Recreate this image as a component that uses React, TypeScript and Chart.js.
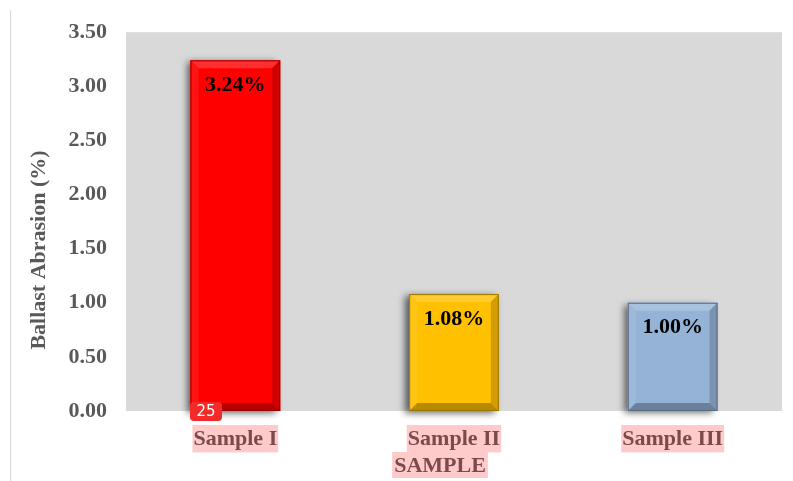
import React, { useEffect, useRef } from "react";
import { Chart, registerables } from "chart.js";

Chart.register(...registerables);

const categories = ["Sample I", "Sample II", "Sample III"];
const values = [3.24, 1.08, 1.0];
const barColors = ["#ff0000", "#ffc000", "#95b3d7"];
const yTicks = [0, 0.5, 1, 1.5, 2, 2.5, 3, 3.5];
const yTitle = "Ballast Abrasion (%)";
const xTitle = "SAMPLE";
const badgeText = "25";

const SERIF = '"Liberation Serif", "Times New Roman", serif';

function shade(hex: string, amt: number) {
  const n = parseInt(hex.slice(1), 16);
  let r = (n >> 16) & 255, g = (n >> 8) & 255, b = n & 255;
  const f = (c: number) => Math.max(0, Math.min(255, Math.round(amt >= 0 ? c + (255 - c) * amt : c * (1 + amt))));
  return `rgb(${f(r)},${f(g)},${f(b)})`;
}

const decorPlugin = {
  id: "decor",
  beforeDraw(chart: any) {
    const { ctx, chartArea } = chart;
    ctx.save();
    ctx.fillStyle = "#d9d9d9";
    ctx.fillRect(chartArea.left, chartArea.top, chartArea.right - chartArea.left, chartArea.bottom - chartArea.top);
    ctx.strokeStyle = "#d9d9d9";
    ctx.lineWidth = 1;
    ctx.beginPath();
    ctx.moveTo(10.5, 10);
    ctx.lineTo(10.5, 481);
    ctx.stroke();
    ctx.restore();
  },
  beforeDatasetsDraw(chart: any) {
    const { ctx } = chart;
    const meta = chart.getDatasetMeta(0);
    ctx.save();
    meta.data.forEach((bar: any, i: number) => {
      const l = bar.x - bar.width / 2;
      ctx.shadowColor = "rgba(0,0,0,0.6)";
      ctx.shadowBlur = 7;
      ctx.shadowOffsetX = -4;
      ctx.shadowOffsetY = 2;
      ctx.fillStyle = barColors[i];
      ctx.fillRect(l, bar.y, bar.width, bar.base - bar.y);
    });
    ctx.restore();
  },
  afterDatasetsDraw(chart: any) {
    const { ctx } = chart;
    const meta = chart.getDatasetMeta(0);
    meta.data.forEach((bar: any, i: number) => {
      const l = bar.x - bar.width / 2;
      const r = bar.x + bar.width / 2;
      const t = bar.y;
      const b = bar.base;
      const d = 8;
      const c = barColors[i];
      ctx.save();
      ctx.fillStyle = shade(c, 0.18);
      ctx.beginPath();
      ctx.moveTo(l, t); ctx.lineTo(r, t); ctx.lineTo(r - d, t + d); ctx.lineTo(l + d, t + d); ctx.closePath(); ctx.fill();
      ctx.fillStyle = shade(c, 0.08);
      ctx.beginPath();
      ctx.moveTo(l, t); ctx.lineTo(l + d, t + d); ctx.lineTo(l + d, b - d); ctx.lineTo(l, b); ctx.closePath(); ctx.fill();
      ctx.fillStyle = shade(c, -0.18);
      ctx.beginPath();
      ctx.moveTo(r, t); ctx.lineTo(r, b); ctx.lineTo(r - d, b - d); ctx.lineTo(r - d, t + d); ctx.closePath(); ctx.fill();
      ctx.fillStyle = shade(c, -0.28);
      ctx.beginPath();
      ctx.moveTo(l, b); ctx.lineTo(r, b); ctx.lineTo(r - d, b - d); ctx.lineTo(l + d, b - d); ctx.closePath(); ctx.fill();
      ctx.strokeStyle = shade(c, -0.4);
      ctx.lineWidth = 1;
      ctx.strokeRect(l + 0.5, t + 0.5, r - l - 1, b - t - 1);
      ctx.fillStyle = "#000000";
      ctx.font = `bold 22px ${SERIF}`;
      ctx.textAlign = "center";
      ctx.textBaseline = "middle";
      ctx.fillText(values[i].toFixed(2) + "%", bar.x, t + 25);
      ctx.restore();
    });
  },
  afterDraw(chart: any) {
    const { ctx, chartArea } = chart;
    ctx.save();
    ctx.font = `bold 22px ${SERIF}`;
    ctx.fillStyle = "#595959";
    ctx.textAlign = "center";
    ctx.textBaseline = "middle";
    ctx.translate(39, 250);
    ctx.rotate(-Math.PI / 2);
    ctx.fillText(yTitle, 0, 0);
    ctx.restore();

    ctx.save();
    ctx.font = `bold 22px ${SERIF}`;
    const w = ctx.measureText(xTitle).width;
    const cx = (chartArea.left + chartArea.right) / 2 - 14;
    const cy = 465;
    ctx.fillStyle = "#ffcaca";
    ctx.fillRect(cx - w / 2 - 2, cy - 13, w + 4, 26);
    ctx.fillStyle = "#7b4b4b";
    ctx.textAlign = "center";
    ctx.textBaseline = "middle";
    ctx.fillText(xTitle, cx, cy + 1);
    ctx.restore();

    ctx.save();
    ctx.fillStyle = "#f42a2a";
    const bx = 190, by = 402, bw = 32, bh = 19, rr = 4;
    ctx.beginPath();
    ctx.moveTo(bx + rr, by);
    ctx.arcTo(bx + bw, by, bx + bw, by + bh, rr);
    ctx.arcTo(bx + bw, by + bh, bx, by + bh, rr);
    ctx.arcTo(bx, by + bh, bx, by, rr);
    ctx.arcTo(bx, by, bx + bw, by, rr);
    ctx.closePath();
    ctx.fill();
    ctx.fillStyle = "#ffffff";
    ctx.font = '15px "DejaVu Sans", sans-serif';
    ctx.textAlign = "center";
    ctx.textBaseline = "middle";
    ctx.fillText(badgeText, bx + bw / 2, by + bh / 2 + 1);
    ctx.restore();
  },
};

export default function App() {
  const ref = useRef<HTMLCanvasElement>(null);
  useEffect(() => {
    if (!ref.current) return;
    const chart = new Chart(ref.current, {
      type: "bar",
      data: {
        labels: categories,
        datasets: [
          {
            data: values,
            backgroundColor: barColors,
            borderWidth: 0,
            barPercentage: 0.82,
            categoryPercentage: 0.5,
          },
        ],
      },
      options: {
        animation: false,
        responsive: false,
        maintainAspectRatio: false,
        layout: { padding: { top: 31, right: 11, left: 0, bottom: 0 } },
        plugins: { legend: { display: false }, tooltip: { enabled: false } },
        scales: {
          x: {
            grid: { display: false, drawTicks: false },
            border: { display: false },
            afterFit: (s: any) => { s.height = 70; },
            ticks: {
              padding: 15,
              color: "#7b4b4b",
              font: { family: SERIF, size: 22, weight: "bold" },
              showLabelBackdrop: true,
              backdropColor: "#ffcaca",
              backdropPadding: { top: 1, bottom: 0, left: 1, right: 1 },
            } as any,
          },
          y: {
            min: 0,
            max: 3.5,
            afterFit: (s: any) => { s.width = 126; },
            afterBuildTicks: (s: any) => { s.ticks = yTicks.map((v) => ({ value: v })); },
            grid: { display: false, drawTicks: false },
            border: { display: false },
            ticks: {
              padding: 19,
              color: "#595959",
              font: { family: SERIF, size: 22, weight: "bold" },
              callback: (v: any) => Number(v).toFixed(2),
            },
          },
        },
      },
      plugins: [decorPlugin],
    });
    return () => chart.destroy();
  }, []);
  return (
    <div style={{ position: "fixed", left: 0, top: 0, width: 793, height: 481, background: "#fff" }}>
      <canvas ref={ref} width={793} height={481} style={{ width: 793, height: 481 }} />
    </div>
  );
}
